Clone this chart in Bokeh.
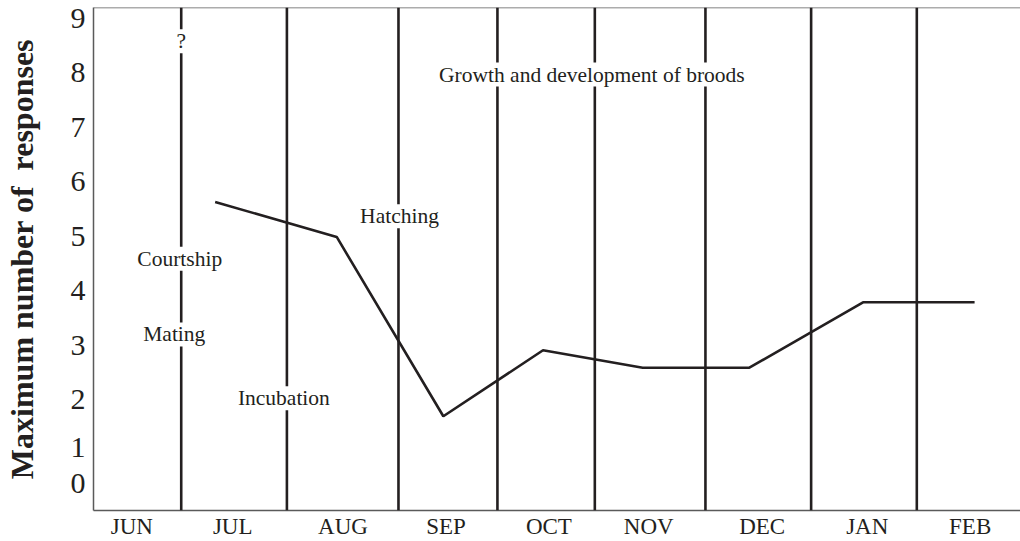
from bokeh.plotting import figure
from bokeh.models import Range1d, FixedTicker, Span, Label
from bokeh.embed import file_html
from bokeh.resources import INLINE

months = ["JUN", "JUL", "AUG", "SEP", "OCT", "NOV", "DEC", "JAN", "FEB"]
month_pos = [0.53, 1.49, 2.54, 3.52, 4.50, 5.45, 6.53, 7.53, 8.51]
boundaries = [1.0, 2.006, 3.068, 4.01, 4.937, 5.990, 6.996, 8.002]
line_x = [1.323, 2.480, 3.495, 4.444, 5.393, 6.408, 7.490, 8.552]
line_y = [5.63, 4.99, 1.70, 2.91, 2.59, 2.59, 3.79, 3.79]
y_tick_labels = ["0", "1", "2", "3", "4", "5", "6", "7", "8", "9"]
y_tick_pos = [0.47, 1.13, 2, 3, 4, 5, 6, 7, 8, 9]

SERIF = "Liberation Serif"
INK = "#231f20"
AXIS = "#5a5a5a"

X0, X1 = 0.165, 8.989
Y0, Y1 = -0.03, 9.20

p = figure(width=1020, height=541, output_backend="svg", toolbar_location=None,
           x_range=Range1d(X0, X1), y_range=Range1d(Y0, Y1),
           min_border_left=90, min_border_right=0, min_border_top=7, min_border_bottom=29,
           outline_line_color=None)
p.grid.visible = False
p.background_fill_color = "white"
p.border_fill_color = "white"

for ax in (p.xaxis[0], p.yaxis[0]):
    ax.axis_line_color = AXIS
    ax.axis_line_width = 1.5
    ax.major_tick_line_color = None
    ax.minor_tick_line_color = None
    ax.major_tick_out = 0
    ax.major_tick_in = 0
    ax.minor_tick_out = 0
    ax.major_label_text_font = SERIF
    ax.major_label_text_color = INK

p.xaxis.ticker = FixedTicker(ticks=month_pos)
p.xaxis.major_label_overrides = {pos: m for pos, m in zip(month_pos, months)}
p.xaxis.major_label_text_font_size = "23px"
p.xaxis.major_label_standoff = 3

p.yaxis.ticker = FixedTicker(ticks=y_tick_pos)
p.yaxis.major_label_overrides = {pos: t for pos, t in zip(y_tick_pos, y_tick_labels)}
p.yaxis.major_label_text_font_size = "30px"
p.yaxis.major_label_standoff = 8
p.yaxis.axis_label = "Maximum number of\u00a0 responses"
p.yaxis.axis_label_text_font = SERIF
p.yaxis.axis_label_text_font_style = "bold"
p.yaxis.axis_label_text_font_size = "32px"
p.yaxis.axis_label_text_color = INK
p.yaxis.axis_label_standoff = 28

p.add_layout(Span(location=Y1, dimension="width", line_color=AXIS, line_width=1.5))

for b in boundaries:
    p.add_layout(Span(location=b, dimension="height", line_color=INK, line_width=2.6))

p.line(line_x, line_y, line_color=INK, line_width=2.6)

labels = [
    ("?", 1.0, 8.58),
    ("Courtship", 0.986, 4.59),
    ("Mating", 0.934, 3.20),
    ("Incubation", 1.977, 2.03),
    ("Hatching", 3.078, 5.37),
    ("Growth and development of broods", 4.909, 7.97),
]
for t, lx, ly in labels:
    p.add_layout(Label(x=lx, y=ly, text=t, text_font=SERIF, text_font_size="21.5px",
                       text_color=INK, text_align="center", text_baseline="middle",
                       background_fill_color="white"))

open("out.html", "w").write(file_html(p, INLINE))
